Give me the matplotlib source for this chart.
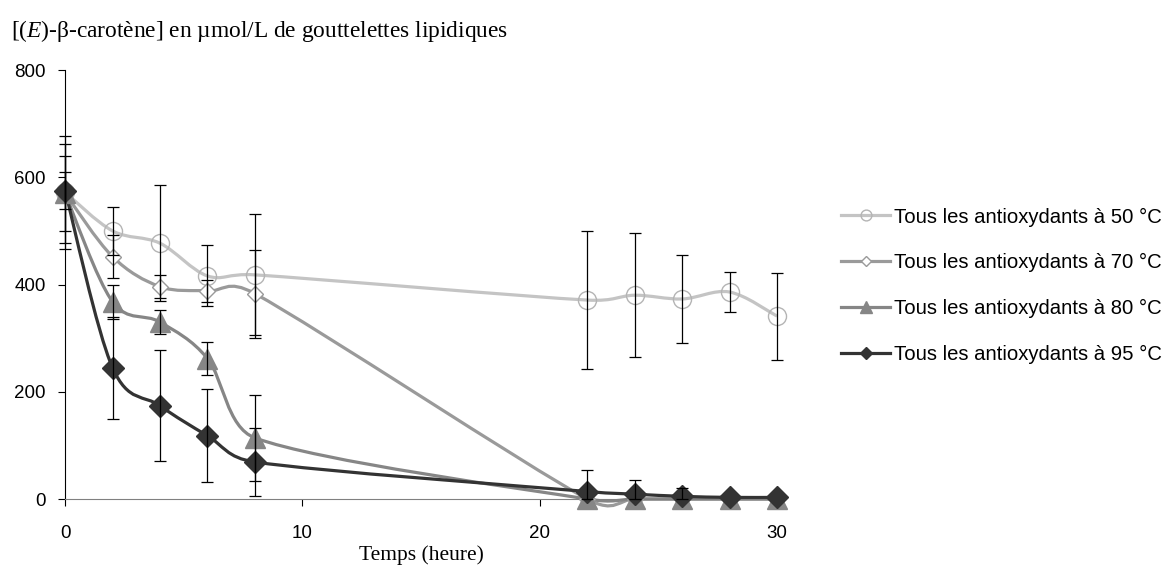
import numpy as np
import matplotlib.pyplot as plt
from matplotlib.path import Path
from matplotlib.patches import PathPatch
from matplotlib.lines import Line2D

plt.rcParams["mathtext.fontset"] = "custom"
plt.rcParams["mathtext.rm"] = "Liberation Serif"
plt.rcParams["mathtext.it"] = "Liberation Serif:italic"

# Time points (hours)
temps = [0, 2, 4, 6, 8, 22, 24, 26, 28, 30]

# [(E)-beta-carotene] per series and their error bars
c50 = [572, 500, 477, 416, 418, 371, 380, 373, 386, 341]
e50 = [105, 45, 108, 57, 113, 129, 116, 82, 37, 81]
c70 = [570, 452, 396, 388, 383, 0, 0, 0, 0, 0]
e70 = [92, 40, 22, 20, 82, 0, 0, 0, 0, 0]
c80 = [570, 368, 330, 262, 114, 0, 0, 0, 0, 0]
e80 = [70, 32, 22, 30, 80, 0, 0, 0, 0, 0]
c95 = [575, 245, 174, 118, 69, 14, 9, 5, 3, 3]
e95 = [35, 95, 103, 87, 63, 40, 26, 15, 0, 0]

labels = ["Tous les antioxydants à 50 °C", "Tous les antioxydants à 70 °C",
          "Tous les antioxydants à 80 °C", "Tous les antioxydants à 95 °C"]

series = [
    (c50, e50, "#c4c4c4", "o", "none", "#b4b4b4", 13),
    (c70, e70, "#9a9a9a", "D", "white", "#9a9a9a", 8),
    (c80, e80, "#868686", "^", "#868686", "#868686", 14),
    (c95, e95, "#333333", "D", "#333333", "#333333", 11),
]


def smooth_path(x, y):
    # smoothed line like Excel: cubic bezier, Catmull-Rom tangents,
    # shortened when they would run past the neighbouring point
    x = np.asarray(x, float)
    y = np.asarray(y, float)
    n = len(x)
    verts = [(x[0], y[0])]
    codes = [Path.MOVETO]
    for i in range(n - 1):
        i0 = max(i - 1, 0)
        i3 = min(i + 2, n - 1)
        dx = x[i + 1] - x[i]
        t1 = np.array([x[i + 1] - x[i0], y[i + 1] - y[i0]]) / 6
        t2 = np.array([x[i3] - x[i], y[i3] - y[i]]) / 6
        if t1[0] > 0.6 * dx:
            t1 *= 0.6 * dx / t1[0]
        if t2[0] > 0.6 * dx:
            t2 *= 0.6 * dx / t2[0]
        verts += [(x[i] + t1[0], y[i] + t1[1]),
                  (x[i + 1] - t2[0], y[i + 1] - t2[1]),
                  (x[i + 1], y[i + 1])]
        codes += [Path.CURVE4] * 3
    return Path(verts, codes)


fig = plt.figure(figsize=(11.74, 5.65), dpi=100)
ax = fig.add_axes([0.0554, 0.1168, 0.6065, 0.7593])

handles = []
for (vals, errs, col, mk, mfc, mec, ms), lab in zip(series, labels):
    ax.add_patch(PathPatch(smooth_path(temps, vals), fill=False,
                           edgecolor=col, lw=2.3, zorder=2, clip_on=False))
    ax.plot(temps, vals, linestyle="none", marker=mk, ms=ms,
            mfc=mfc, mec=mec, mew=1.0, zorder=3, clip_on=False)
    handles.append(Line2D([], [], color=col, lw=2.3, marker=mk, ms=ms * 0.6,
                          mfc=mfc, mec=mec, mew=1.0))

for vals, errs, *_ in series:
    keep = [i for i, e in enumerate(errs) if e > 0]
    low = [min(errs[i], vals[i]) for i in keep]   # bars stop at zero
    high = [errs[i] for i in keep]
    ax.errorbar([temps[i] for i in keep], [vals[i] for i in keep],
                yerr=[low, high], fmt="none", ecolor="black",
                elinewidth=0.9, capsize=4, capthick=0.9, zorder=4, clip_on=False)

ax.set_xlim(0, 30)
ax.set_ylim(0, 800)
ax.set_xticks([0, 10, 20, 30])
ax.set_yticks([0, 200, 400, 600, 800])
for s in ["top", "right"]:
    ax.spines[s].set_visible(False)
ax.spines["bottom"].set_color("#808080")
ax.spines["left"].set_color("black")
ax.tick_params(direction="out", length=5, labelsize=13.5)
ax.tick_params(axis="x", color="black", pad=14)
ax.tick_params(axis="y", pad=9)
for t in ax.get_xticklabels() + ax.get_yticklabels():
    t.set_fontfamily("Liberation Sans")

ax.set_xlabel("Temps (heure)", family="Liberation Serif", fontsize=15.5, labelpad=2)
fig.text(0.009, 0.945, "[($\\it{E}$)-β-carotène] en µmol/L de gouttelettes lipidiques",
         family="Liberation Serif", fontsize=16.8, va="center", ha="left")

fig.legend(handles=handles, labels=labels, loc="upper left",
           bbox_to_anchor=(0.701, 0.665), frameon=False, handlelength=2.4,
           handletextpad=0.2, labelspacing=1.32,
           prop={"family": "Liberation Sans", "size": 14.6})

fig.savefig("out.png", dpi=100)
